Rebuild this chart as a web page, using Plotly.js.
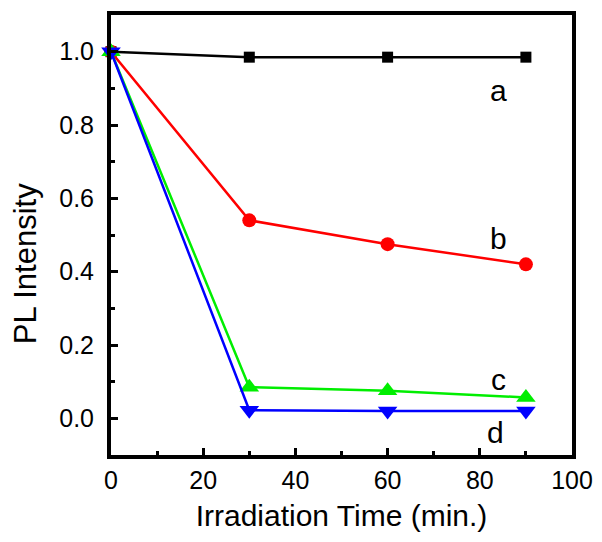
<!DOCTYPE html>
<html><head><meta charset="utf-8">
<script src="https://cdn.plot.ly/plotly-3.0.1.min.js"></script>
<style>body{margin:0;padding:0;background:#fff}#chart{width:602px;height:542px}</style>
</head><body><div id="chart"></div>
<script>
const times = [0, 30, 60, 90];
const seriesA = [1.0, 0.985, 0.985, 0.985];
const seriesB = [1.0, 0.54, 0.475, 0.42];
const seriesC = [1.0, 0.085, 0.075, 0.057];
const seriesD = [1.0, 0.022, 0.02, 0.02];
const labelNames = ['a', 'b', 'c', 'd'];
const labelX = [84, 84, 84, 83.5];
const labelY = [0.895, 0.49, 0.105, -0.038];

const mk = (y, color, symbol, size) => ({
  x: times, y: y, type: 'scatter', mode: 'lines+markers',
  line: {color: color, width: 2.5},
  marker: {color: color, symbol: symbol, size: size},
  cliponaxis: false, showlegend: false
});
const data = [
  mk(seriesA, '#000000', 'square', 11),
  mk(seriesB, '#ff0000', 'circle', 14),
  mk(seriesC, '#00ee00', 'triangle-up', 17),
  mk(seriesD, '#0000ff', 'triangle-down', 17)
];
const fontFam = 'Liberation Sans, Arial, Helvetica, sans-serif';
const layout = {
  width: 602, height: 542,
  margin: {l: 111, r: 30, t: 15, b: 87},
  paper_bgcolor: '#fff', plot_bgcolor: '#fff',
  font: {family: fontFam, color: '#000', size: 25},
  xaxis: {
    range: [0, 100], tickvals: [0, 20, 40, 60, 80, 100],
    ticks: 'inside', ticklen: 7, tickwidth: 3, tickcolor: '#000',
    minor: {tickvals: [10, 30, 50, 70, 90], ticks: 'inside', ticklen: 4, tickwidth: 3, tickcolor: '#000'},
    showline: true, linewidth: 4, linecolor: '#000', mirror: true,
    showgrid: false, zeroline: false,
    ticklabelstandoff: 0,
    title: {text: 'Irradiation Time (min.)', font: {size: 30}, standoff: 13}
  },
  yaxis: {
    range: [-0.1, 1.1], tickvals: [0, 0.2, 0.4, 0.6, 0.8, 1.0],
    ticktext: ['0.0', '0.2', '0.4', '0.6', '0.8', '1.0'],
    ticks: 'inside', ticklen: 7, tickwidth: 3, tickcolor: '#000',
    minor: {tickvals: [0.1, 0.3, 0.5, 0.7, 0.9], ticks: 'inside', ticklen: 4, tickwidth: 3, tickcolor: '#000'},
    showline: true, linewidth: 4, linecolor: '#000', mirror: true,
    showgrid: false, zeroline: false,
    ticklabelstandoff: 8
  },
  annotations: labelNames.map((t, i) => ({
    x: labelX[i], y: labelY[i], xref: 'x', yref: 'y', text: t,
    showarrow: false, font: {size: 30, family: fontFam, color: '#000'}
  })).concat([{
    x: -0.1866, y: 0.436, xref: 'paper', yref: 'paper', text: 'PL Intensity',
    textangle: -90, showarrow: false, xanchor: 'center', yanchor: 'middle',
    font: {size: 31, family: fontFam, color: '#000'}
  }])
};
Plotly.newPlot('chart', data, layout, {displayModeBar: false, staticPlot: true});
</script></body></html>
